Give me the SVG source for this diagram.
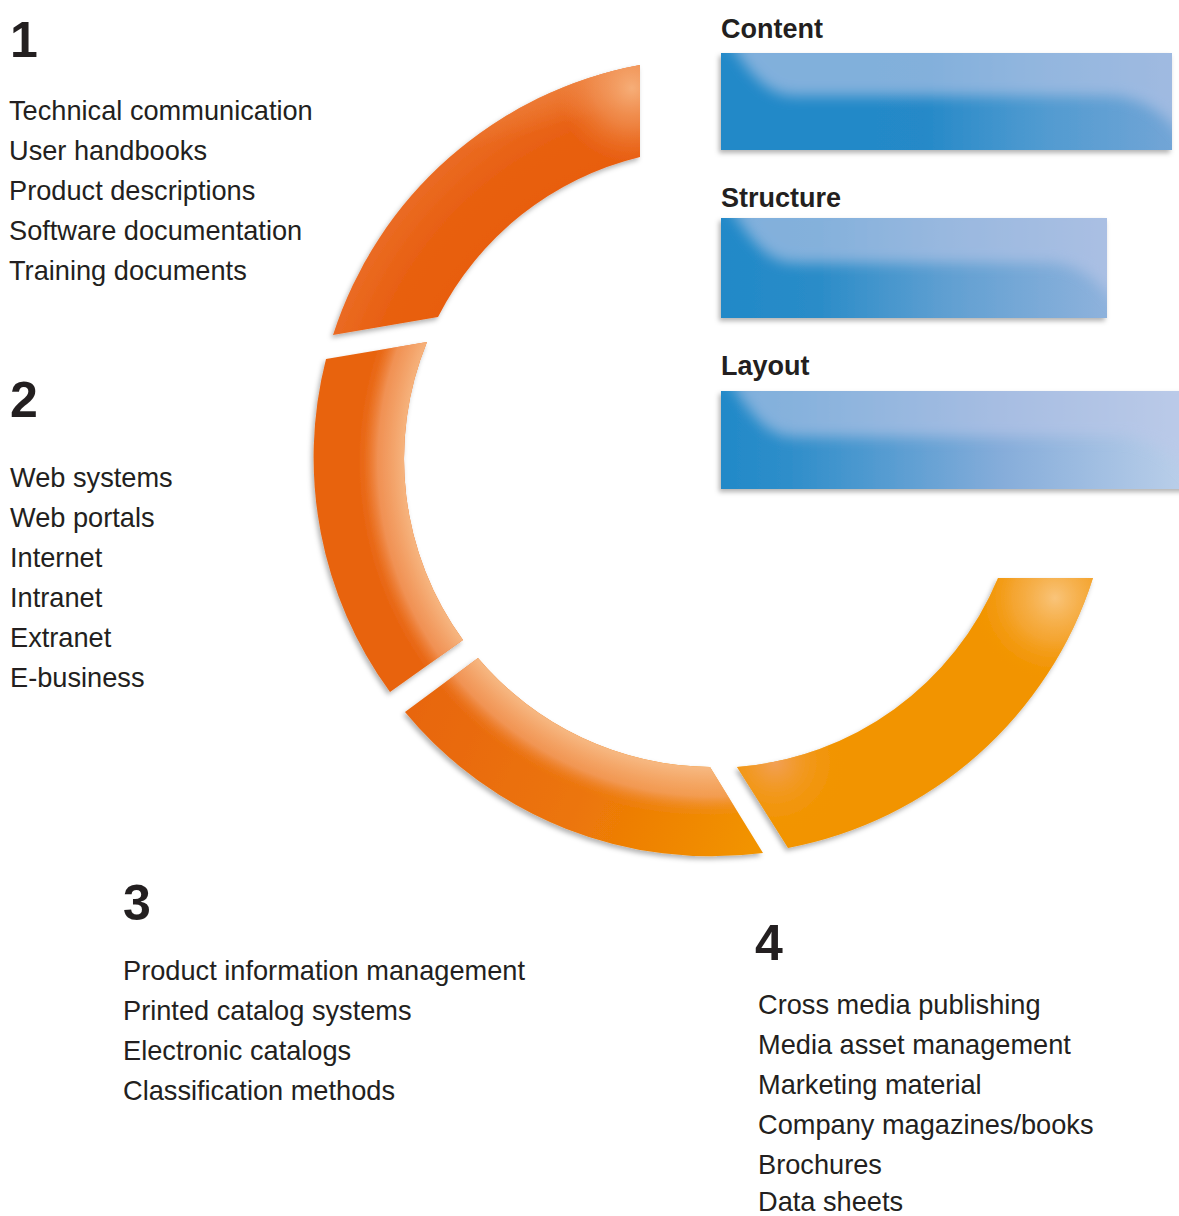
<svg xmlns="http://www.w3.org/2000/svg" width="1179" height="1216" viewBox="0 0 1179 1216">
<style>
text{font-family:"Liberation Sans",Arial,sans-serif;fill:#231F20}
.num{font-size:50px;font-weight:bold}
.title{font-size:27px;font-weight:bold}
.item{font-size:27.2px}
</style>
<defs>
<filter id="sh" x="-10%" y="-10%" width="120%" height="120%">
<feDropShadow dx="-2" dy="3" stdDeviation="2.5" flood-color="#000" flood-opacity="0.3"/>
</filter>
<filter id="blur" x="-20%" y="-50%" width="140%" height="200%"><feGaussianBlur stdDeviation="7"/></filter>
<radialGradient id="ringBand" gradientUnits="userSpaceOnUse" cx="712" cy="462" r="398">
<stop offset="0.77" stop-color="#F7BA86" stop-opacity="0.95"/>
<stop offset="0.84" stop-color="#F4A470" stop-opacity="0.7"/>
<stop offset="0.875" stop-color="#F09050" stop-opacity="0.15"/>
<stop offset="0.89" stop-color="#F09050" stop-opacity="0"/>
</radialGradient>
<radialGradient id="ring1" gradientUnits="userSpaceOnUse" cx="712" cy="462" r="398">
<stop offset="0.77" stop-color="#E85D0F"/>
<stop offset="0.9" stop-color="#E86011"/>
<stop offset="1" stop-color="#EA6A22"/>
</radialGradient>
<linearGradient id="seg1top" gradientUnits="userSpaceOnUse" x1="560" y1="80" x2="580" y2="150">
<stop offset="0" stop-color="#EE8440" stop-opacity="0.8"/>
<stop offset="0.6" stop-color="#EE8440" stop-opacity="0"/>
</linearGradient>
<linearGradient id="seg3base" gradientUnits="userSpaceOnUse" x1="420" y1="700" x2="760" y2="850">
<stop offset="0" stop-color="#E8660E"/>
<stop offset="0.5" stop-color="#EC7508"/>
<stop offset="1" stop-color="#F29500"/>
</linearGradient>
<radialGradient id="hl1" gradientUnits="userSpaceOnUse" cx="632" cy="88" r="75">
<stop offset="0" stop-color="#F6AE78"/>
<stop offset="0.5" stop-color="#F29A60" stop-opacity="0.6"/>
<stop offset="1" stop-color="#EE8040" stop-opacity="0"/>
</radialGradient>
<radialGradient id="hl4" gradientUnits="userSpaceOnUse" cx="1055" cy="598" r="85">
<stop offset="0" stop-color="#F9C47A"/>
<stop offset="0.5" stop-color="#F6B050" stop-opacity="0.6"/>
<stop offset="1" stop-color="#F29400" stop-opacity="0"/>
</radialGradient>
<radialGradient id="hl4b" gradientUnits="userSpaceOnUse" cx="775" cy="762" r="75">
<stop offset="0" stop-color="#F2A058"/>
<stop offset="1" stop-color="#F29400" stop-opacity="0"/>
</radialGradient>
<linearGradient id="blue1" x1="0" y1="0" x2="1" y2="0">
<stop offset="0" stop-color="#2189C8"/>
<stop offset="0.45" stop-color="#2589C8"/>
<stop offset="0.7" stop-color="#4F9AD0"/>
<stop offset="1" stop-color="#72A5D6"/>
</linearGradient>
<linearGradient id="blue2" x1="0" y1="0" x2="1" y2="0">
<stop offset="0" stop-color="#2189C8"/>
<stop offset="0.25" stop-color="#2A8CC8"/>
<stop offset="0.6" stop-color="#62A0D2"/>
<stop offset="1" stop-color="#8EB2DC"/>
</linearGradient>
<linearGradient id="blue3" x1="0" y1="0" x2="1" y2="0">
<stop offset="0" stop-color="#2189C8"/>
<stop offset="0.15" stop-color="#2F8ECA"/>
<stop offset="0.6" stop-color="#86ADDA"/>
<stop offset="1" stop-color="#BCD0EA"/>
</linearGradient>
<clipPath id="c1"><rect x="721" y="53" width="451" height="97"/></clipPath>
<clipPath id="c2"><rect x="721" y="218" width="386" height="100"/></clipPath>
<clipPath id="c3"><rect x="721" y="391" width="470" height="98"/></clipPath>
</defs>

<g id="ring">
<g id="segment1" filter="url(#sh)">
<path d="M640,65 A398,398 0 0 0 333,335 L438,317 A308,308 0 0 1 640,157 Z" fill="url(#ring1)"/>
<path d="M640,65 A398,398 0 0 0 333,335 L438,317 A308,308 0 0 1 640,157 Z" fill="url(#seg1top)"/>
<path d="M640,65 A398,398 0 0 0 333,335 L438,317 A308,308 0 0 1 640,157 Z" fill="url(#hl1)"/>
</g>
<g id="segment2" filter="url(#sh)">
<path d="M326,359 A398,398 0 0 0 390,692 L463,640 A308,308 0 0 1 427,342 Z" fill="#E8630E"/>
<path d="M326,359 A398,398 0 0 0 390,692 L463,640 A308,308 0 0 1 427,342 Z" fill="url(#ringBand)"/>
</g>
<g id="segment3" filter="url(#sh)">
<path d="M405,712 A398,398 0 0 0 763,853 L710,767 A308,308 0 0 1 478,658 Z" fill="url(#seg3base)"/>
<path d="M405,712 A398,398 0 0 0 763,853 L710,767 A308,308 0 0 1 478,658 Z" fill="url(#ringBand)"/>
</g>
<g id="segment4" filter="url(#sh)">
<path d="M788,848 A398,398 0 0 0 1093,578 L998,578 A308,308 0 0 1 737,767 Z" fill="#F29400"/>
<path d="M788,848 A398,398 0 0 0 1093,578 L998,578 A308,308 0 0 1 737,767 Z" fill="url(#hl4)"/>
<path d="M788,848 A398,398 0 0 0 1093,578 L998,578 A308,308 0 0 1 737,767 Z" fill="url(#hl4b)"/>
</g>
</g>

<g id="bar-content">
<text class="title" x="721" y="38">Content</text>
<g filter="url(#sh)"><rect x="721" y="53" width="451" height="97" fill="url(#blue1)"/></g>
<g clip-path="url(#c1)"><path d="M728,40 L1185,40 L1185,140 C1165,112 1140,97 1110,96 L795,96 C765,96 748,70 728,40 Z" fill="#BCC8E8" opacity="0.62" filter="url(#blur)"/></g>
</g>

<g id="bar-structure">
<text class="title" x="721" y="207">Structure</text>
<g filter="url(#sh)"><rect x="721" y="218" width="386" height="100" fill="url(#blue2)"/></g>
<g clip-path="url(#c2)"><path d="M728,205 L1120,205 L1120,308 C1100,282 1080,264 1050,263 L795,263 C765,263 748,235 728,205 Z" fill="#BCC8E8" opacity="0.62" filter="url(#blur)"/></g>
</g>

<g id="bar-layout">
<text class="title" x="721" y="375">Layout</text>
<g filter="url(#sh)"><rect x="721" y="391" width="470" height="98" fill="url(#blue3)"/></g>
<g clip-path="url(#c3)"><path d="M728,378 L1195,378 L1195,480 C1175,455 1150,438 1120,437 L795,437 C765,437 748,410 728,378 Z" fill="#BCC8E8" opacity="0.62" filter="url(#blur)"/></g>
</g>

<g id="group1">
<text class="num" x="10" y="57">1</text>
<text class="item" x="9" y="120">Technical communication</text>
<text class="item" x="9" y="160">User handbooks</text>
<text class="item" x="9" y="200">Product descriptions</text>
<text class="item" x="9" y="240">Software documentation</text>
<text class="item" x="9" y="280">Training documents</text>
</g>

<g id="group2">
<text class="num" x="10" y="417">2</text>
<text class="item" x="10" y="487">Web systems</text>
<text class="item" x="10" y="527">Web portals</text>
<text class="item" x="10" y="567">Internet</text>
<text class="item" x="10" y="607">Intranet</text>
<text class="item" x="10" y="647">Extranet</text>
<text class="item" x="10" y="687">E-business</text>
</g>

<g id="group3">
<text class="num" x="123" y="920">3</text>
<text class="item" x="123" y="980">Product information management</text>
<text class="item" x="123" y="1020">Printed catalog systems</text>
<text class="item" x="123" y="1060">Electronic catalogs</text>
<text class="item" x="123" y="1100">Classification methods</text>
</g>

<g id="group4">
<text class="num" x="755" y="960">4</text>
<text class="item" x="758" y="1014">Cross media publishing</text>
<text class="item" x="758" y="1054">Media asset management</text>
<text class="item" x="758" y="1094">Marketing material</text>
<text class="item" x="758" y="1134">Company magazines/books</text>
<text class="item" x="758" y="1174">Brochures</text>
<text class="item" x="758" y="1211">Data sheets</text>
</g>
</svg>
